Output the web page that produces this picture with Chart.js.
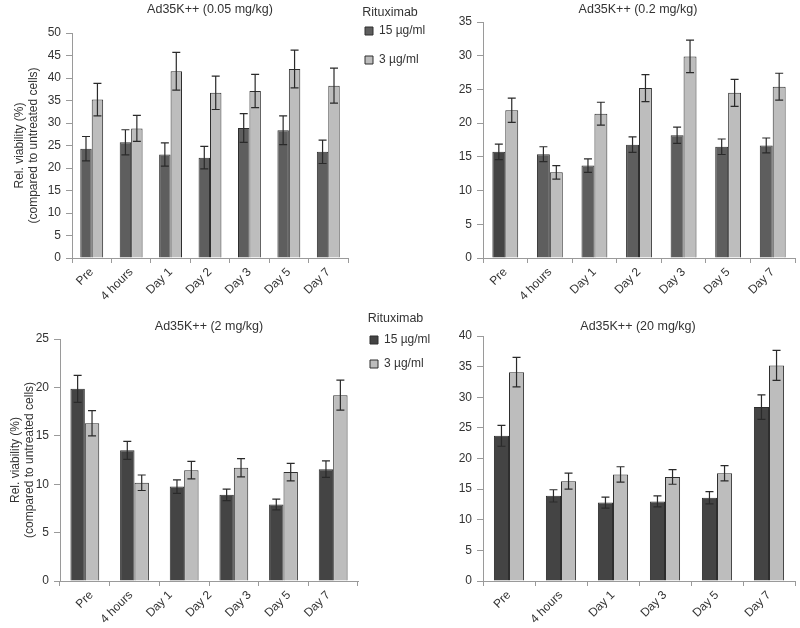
<!DOCTYPE html>
<html>
<head>
<meta charset="utf-8">
<title>Ad35K++ – rituximab viability</title>
<script src="https://cdn.jsdelivr.net/npm/chart.js@4.4.1/dist/chart.umd.min.js"></script>
<style>
  html, body { margin: 0; padding: 0; background: #fff; overflow: hidden; }
  #wrap { position: relative; width: 800px; height: 628px; overflow: hidden; }
  canvas { position: absolute; }
</style>
</head>
<body>
<div id="wrap">
  <canvas id="dose005" width="432" height="314" style="left:0;top:0"></canvas>
  <canvas id="dose02" width="370" height="314" style="left:453px;top:0"></canvas>
  <canvas id="dose2" width="433" height="328" style="left:0;top:300px"></canvas>
  <canvas id="dose20" width="370" height="328" style="left:453px;top:300px"></canvas>
</div>
<script>
const timepoints = ['Pre', '4 hours', 'Day 1', 'Day 2', 'Day 3', 'Day 5', 'Day 7'];
const timepointsShort = ['Pre', '4 hours', 'Day 1', 'Day 3', 'Day 5', 'Day 7'];
// the 2 mg/kg panel has 6 bar groups, but the figure prints the 7 labels under them
const tickLabels2 = ['Pre', '4 hours', 'Day 1', 'Day 2', 'Day 3', 'Day 5', 'Day 7'];
const seriesNames = ['15 µg/ml', '3 µg/ml'];

// Ad35K++ 0.05 mg/kg
const rit15_005 = [24.3, 25.7, 23.0, 22.3, 28.9, 28.4, 23.6];
const rit15_005Err = [2.7, 2.8, 2.6, 2.5, 3.2, 3.2, 2.6];
const rit3_005 = [35.2, 28.8, 41.5, 36.7, 37.1, 42.0, 38.3];
const rit3_005Err = [3.6, 2.9, 4.2, 3.7, 3.7, 4.2, 3.9];

// Ad35K++ 0.2 mg/kg
const rit15_02 = [15.75, 15.4, 13.7, 16.8, 18.2, 16.5, 16.7];
const rit15_02Err = [1.15, 1.1, 1.0, 1.15, 1.2, 1.15, 1.1];
const rit3_02 = [21.9, 12.7, 21.4, 25.2, 29.9, 24.5, 25.4];
const rit3_02Err = [1.8, 1.0, 1.7, 2.0, 2.4, 2.0, 2.0];

// Ad35K++ 2 mg/kg
const rit15_2 = [19.85, 13.5, 9.75, 8.9, 7.9, 11.55];
const rit15_2Err = [1.4, 0.93, 0.7, 0.6, 0.55, 0.85];
const rit3_2 = [16.3, 10.15, 11.45, 11.7, 11.25, 19.2];
const rit3_2Err = [1.3, 0.8, 0.9, 0.95, 0.9, 1.55];

// Ad35K++ 20 mg/kg
const rit15_20 = [23.7, 13.9, 12.8, 13.0, 13.6, 28.4];
const rit15_20Err = [1.7, 1.0, 0.9, 0.9, 1.0, 2.0];
const rit3_20 = [34.1, 16.3, 17.4, 17.0, 17.6, 35.2];
const rit3_20Err = [2.4, 1.3, 1.25, 1.2, 1.25, 2.45];

Chart.defaults.font.family = '"Liberation Sans", Arial, Helvetica, sans-serif';
Chart.defaults.font.size = 12;
Chart.defaults.color = '#333';

const axisGrey = '#9a9a9a';
const lightGrey = '#bdbdbd';
const midGrey = '#5e5e5e';
const darkGrey = '#444444';
const outline = '#2e2e2e';

const errorBars = {
  id: 'errorBars',
  afterDatasetsDraw(chart) {
    const ctx = chart.ctx;
    const yScale = chart.scales.y;
    chart.data.datasets.forEach((ds, i) => {
      const meta = chart.getDatasetMeta(i);
      ctx.save();
      ctx.strokeStyle = '#2a2a2a';
      ctx.lineWidth = 1.2;
      meta.data.forEach((bar, j) => {
        const top = yScale.getPixelForValue(ds.data[j] + ds.errors[j]);
        const bot = yScale.getPixelForValue(ds.data[j] - ds.errors[j]);
        ctx.beginPath();
        ctx.moveTo(bar.x, top); ctx.lineTo(bar.x, bot);
        ctx.moveTo(bar.x - 4, top); ctx.lineTo(bar.x + 4, top);
        ctx.moveTo(bar.x - 4, bot); ctx.lineTo(bar.x + 4, bot);
        ctx.stroke();
      });
      ctx.restore();
    });
  }
};

function datasets(d15, e15, d3, e3, dark) {
  return [
    { label: seriesNames[0], data: d15, errors: e15, backgroundColor: dark,
      borderColor: outline, borderWidth: 1, categoryPercentage: 0.58, barPercentage: 1 },
    { label: seriesNames[1], data: d3, errors: e3, backgroundColor: lightGrey,
      borderColor: outline, borderWidth: 1, categoryPercentage: 0.58, barPercentage: 1 }
  ];
}

function yAxis(max, width, titlePad) {
  return {
    min: 0, max: max,
    ticks: { stepSize: 5, padding: 5 },
    grid: { drawOnChartArea: false, tickLength: 6, color: axisGrey },
    border: { color: axisGrey },
    title: {
      display: titlePad !== null,
      text: ['Rel. viability (%)', '(compared to untreated cells)'],
      font: { size: 12, lineHeight: 1.17 },
      padding: { top: titlePad || 0, bottom: 0 }
    },
    afterFit: s => { s.width = width; }
  };
}

function xAxis(height, showLabels) {
  return {
    ticks: { display: showLabels, minRotation: 45, maxRotation: 45, padding: 2 },
    grid: { drawOnChartArea: false, tickLength: 5, color: axisGrey, offset: true },
    border: { color: axisGrey },
    afterFit: s => { s.height = height; }
  };
}

// empty right-hand axis, only reserves room so the title sits over the plot
function spacer(width) {
  return {
    type: 'linear', position: 'right', display: true,
    ticks: { display: false },
    grid: { display: false, drawTicks: false },
    border: { display: false },
    afterFit: s => { s.width = width; }
  };
}

function legendOpts(maxWidth, pad, titleTop, titleBottom) {
  return {
    display: true,
    position: 'right',
    align: 'start',
    maxWidth: maxWidth,
    title: {
      display: true, text: 'Rituximab', position: 'center', color: '#333',
      font: { size: 12.5 }, padding: { top: titleTop, bottom: titleBottom }
    },
    labels: { boxWidth: 8, boxHeight: 8, padding: pad, color: '#333', font: { size: 12 } }
  };
}

function titleOpts(text, top, bottom) {
  return {
    display: true, text: text, color: '#333',
    font: { size: 12.5, weight: 'normal' },
    padding: { top: top, bottom: bottom }
  };
}

// 0.05 mg/kg
new Chart(document.getElementById('dose005'), {
  type: 'bar',
  data: { labels: timepoints, datasets: datasets(rit15_005, rit15_005Err, rit3_005, rit3_005Err, midGrey) },
  options: {
    responsive: false, animation: false,
    layout: { padding: { left: -12, right: 0, top: 0, bottom: 0 } },
    plugins: {
      title: titleOpts('Ad35K++ (0.05 mg/kg)', 2.5, 15.5),
      legend: legendOpts(84, 17, 6.75, -13.75),
      tooltip: { enabled: false }
    },
    scales: { x: xAxis(56, true), y: yAxis(50, 84, 25) }
  },
  plugins: [errorBars]
});

// 0.2 mg/kg
const ds02 = datasets(rit15_02, rit15_02Err, rit3_02, rit3_02Err, midGrey);
ds02[0].backgroundColor = c => (c.dataIndex === 0 ? darkGrey : midGrey);
new Chart(document.getElementById('dose02'), {
  type: 'bar',
  data: { labels: timepoints, datasets: ds02 },
  options: {
    responsive: false, animation: false,
    plugins: {
      title: titleOpts('Ad35K++ (0.2 mg/kg)', 2.5, 4.5),
      legend: { display: false },
      tooltip: { enabled: false }
    },
    scales: { x: xAxis(56, true), y: yAxis(35, 30, null), pad: spacer(28) }
  },
  plugins: [errorBars]
});

// 2 mg/kg: bars on a 6-slot category axis, labels on a separate axis
new Chart(document.getElementById('dose2'), {
  type: 'bar',
  data: { labels: timepointsShort, datasets: datasets(rit15_2, rit15_2Err, rit3_2, rit3_2Err, darkGrey) },
  options: {
    responsive: false, animation: false,
    layout: { padding: { left: -15, right: 0, top: 0, bottom: 0 } },
    plugins: {
      title: titleOpts('Ad35K++ (2 mg/kg)', 19.2, 4.8),
      legend: legendOpts(75, 12, 12.75, -5.75),
      tooltip: { enabled: false }
    },
    scales: {
      x: xAxis(5, false),
      y: yAxis(25, 75, 24),
      xl: {
        type: 'linear', position: 'bottom', offset: false,
        min: -0.797, max: 6.747,
        ticks: {
          stepSize: 1, includeBounds: false, autoSkip: false,
          minRotation: 45, maxRotation: 45, padding: 2,
          callback: v => tickLabels2[v] || ''
        },
        grid: { display: false, drawTicks: false },
        border: { display: false },
        afterFit: s => { s.height = 42; }
      }
    }
  },
  plugins: [errorBars]
});

// 20 mg/kg
new Chart(document.getElementById('dose20'), {
  type: 'bar',
  data: { labels: timepointsShort, datasets: datasets(rit15_20, rit15_20Err, rit3_20, rit3_20Err, darkGrey) },
  options: {
    responsive: false, animation: false,
    plugins: {
      title: titleOpts('Ad35K++ (20 mg/kg)', 19.2, 1.8),
      legend: { display: false },
      tooltip: { enabled: false }
    },
    scales: { x: xAxis(47, true), y: yAxis(40, 30, null), pad: spacer(28) }
  },
  plugins: [errorBars]
});
</script>
</body>
</html>
